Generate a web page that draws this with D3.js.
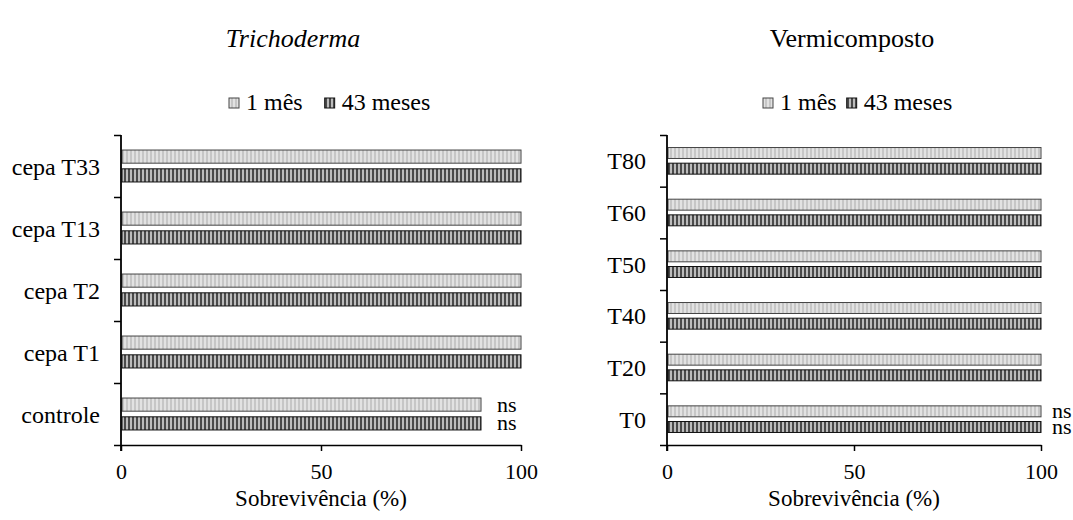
<!DOCTYPE html>
<html>
<head>
<meta charset="utf-8">
<script src="https://cdn.jsdelivr.net/npm/d3@7"></script>
<style>
  body { margin: 0; background: #fff; }
  svg text { font-family: "Liberation Serif", "Times New Roman", serif; fill: #000; }
</style>
</head>
<body>
<div id="chart"></div>
<script>
const seriesNames = ["1 mês", "43 meses"];
const xTicks = [0, 50, 100];

const trichoCats = ["cepa T33", "cepa T13", "cepa T2", "cepa T1", "controle"];
const tricho1mes = [100, 100, 100, 100, 90];
const tricho43meses = [100, 100, 100, 100, 90];
const trichoNs = ["controle"];

const vermiCats = ["T80", "T60", "T50", "T40", "T20", "T0"];
const vermi1mes = [100, 100, 100, 100, 100, 100];
const vermi43meses = [100, 100, 100, 100, 100, 100];
const vermiNs = ["T0"];

const width = 1073, height = 520;
const serif = '"Liberation Serif", "Times New Roman", serif';
const svg = d3.select("#chart").append("svg")
    .attr("width", width)
    .attr("height", height);

// bar fills: vertical stripes
const defs = svg.append("defs");
const p1 = defs.append("pattern").attr("id", "pat1")
    .attr("patternUnits", "userSpaceOnUse").attr("width", 4).attr("height", 4);
p1.append("rect").attr("width", 4).attr("height", 4).attr("fill", "#c6c6c6");
p1.append("rect").attr("width", 2).attr("height", 4).attr("fill", "#e2e2e2");
const p2 = defs.append("pattern").attr("id", "pat2")
    .attr("patternUnits", "userSpaceOnUse").attr("width", 4).attr("height", 4);
p2.append("rect").attr("width", 4).attr("height", 4).attr("fill", "#bcbcbc");
p2.append("rect").attr("width", 2).attr("height", 4).attr("fill", "#4a4a4a");

const fills = ["url(#pat1)", "url(#pat2)"];
const strokes = ["#444", "#111"];

function drawPanel(cfg) {
    const {cats, v1, v2, ns, left, right, top, bottom, title, italic, titleX, legendX, legendGap, nsOffset} = cfg;
    const rows = cats.map((c, i) => ({cat: c, values: [v1[i], v2[i]]}));

    const x = d3.scaleLinear().domain([0, 100]).range([left, right]);
    const y = d3.scaleBand().domain(cats).range([top, bottom]).paddingInner(0).paddingOuter(0);
    const ySub = d3.scaleBand().domain(seriesNames).range([0, y.bandwidth()])
        .paddingInner(0.3).paddingOuter(0.8);
    const yEdge = d3.scaleLinear().domain([0, cats.length]).range([top, bottom]);

    const g = svg.append("g");

    // bars
    rows.forEach(r => {
        r.values.forEach((v, j) => {
            g.append("rect")
                .attr("x", x(0) + 1)
                .attr("y", y(r.cat) + ySub(seriesNames[j]))
                .attr("width", x(v) - x(0) - 1)
                .attr("height", ySub.bandwidth())
                .attr("fill", fills[j])
                .attr("stroke", strokes[j])
                .attr("stroke-width", 1);
            if (ns.includes(r.cat)) {
                g.append("text")
                    .attr("x", x(v) + nsOffset)
                    .attr("y", y(r.cat) + ySub(seriesNames[j]) + ySub.bandwidth() / 2 + 7)
                    .style("font-size", "22px")
                    .text("ns");
            }
        });
    });

    // y axis: boundary ticks
    g.append("g")
        .attr("transform", `translate(${left},0)`)
        .call(d3.axisLeft(yEdge).ticks(cats.length).tickSize(7).tickFormat(""))
        .call(a => a.select(".domain").remove())
        .call(a => a.selectAll("line").attr("stroke", "#000").attr("stroke-width", 1.5));
    g.append("line")
        .attr("x1", left).attr("x2", left)
        .attr("y1", top).attr("y2", bottom + 6)
        .attr("stroke", "#000").attr("stroke-width", 1.8);

    // y labels
    g.append("g")
        .attr("transform", `translate(${left},0)`)
        .call(d3.axisLeft(y).tickSize(0).tickPadding(21))
        .call(a => a.select(".domain").remove())
        .call(a => a.selectAll("text")
            .attr("dy", "0.36em")
            .style("font-size", "24px")
            .style("font-family", serif));

    // x axis
    g.append("g")
        .attr("transform", `translate(0,${bottom})`)
        .call(d3.axisBottom(x).tickValues(xTicks).tickSize(6).tickPadding(12).tickSizeOuter(0))
        .call(a => a.select(".domain").attr("stroke", "#000").attr("stroke-width", 1.5))
        .call(a => a.selectAll("line").attr("stroke", "#000").attr("stroke-width", 1.5))
        .call(a => a.selectAll("text")
            .style("font-size", "22px")
            .style("font-family", serif));

    // x title
    g.append("text")
        .attr("x", (left + right) / 2)
        .attr("y", 506)
        .attr("text-anchor", "middle")
        .style("font-size", "23px")
        .text("Sobrevivência (%)");

    // title
    g.append("text")
        .attr("x", titleX)
        .attr("y", 47)
        .attr("text-anchor", "middle")
        .style("font-size", "26px")
        .style("font-style", italic ? "italic" : "normal")
        .text(title);

    // legend
    const leg = g.append("g").attr("transform", `translate(${legendX},98)`);
    let cx = 0;
    seriesNames.forEach((s, j) => {
        leg.append("rect")
            .attr("x", cx).attr("y", 0)
            .attr("width", 10).attr("height", 10)
            .attr("fill", fills[j])
            .attr("stroke", strokes[j]);
        const t = leg.append("text")
            .attr("x", cx + 17)
            .attr("y", 12)
            .style("font-size", "24px")
            .text(s);
        cx += 17 + t.node().getComputedTextLength() + legendGap;
    });
}

drawPanel({
    cats: trichoCats, v1: tricho1mes, v2: tricho43meses, ns: trichoNs,
    left: 121, right: 521, top: 135, bottom: 445,
    title: "Trichoderma", italic: true, titleX: 293,
    legendX: 229, legendGap: 22, nsOffset: 16
});
drawPanel({
    cats: vermiCats, v1: vermi1mes, v2: vermi43meses, ns: vermiNs,
    left: 667, right: 1041, top: 135, bottom: 445,
    title: "Vermicomposto", italic: false, titleX: 852,
    legendX: 763, legendGap: 10, nsOffset: 11
});
</script>
</body>
</html>
